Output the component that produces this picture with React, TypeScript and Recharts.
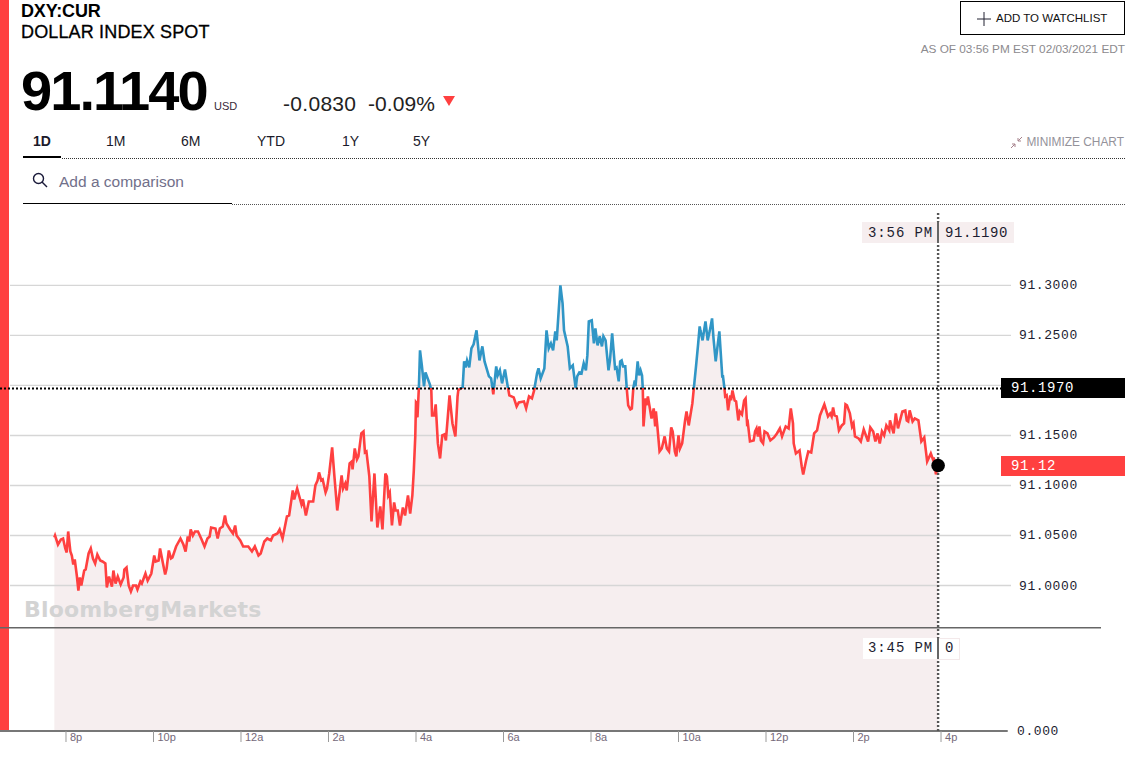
import React from 'react';
import { ComposedChart, Area, Line, XAxis, YAxis, ReferenceLine, ReferenceDot } from 'recharts';

// minutes after 8pm
const minutes = [
  -16, -15, -11, -7, -4, -1, 1, 3, 6, 8,
  10, 12, 15, 17, 19, 21, 25, 27, 31, 34,
  37, 40, 43, 47, 50, 54, 56, 59, 63, 65,
  68, 71, 75, 79, 80, 83, 86, 89, 92, 96,
  98, 102, 104, 106, 109, 112, 117, 121, 123, 127,
  129, 133, 136, 138, 141, 144, 146, 151, 157, 161,
  164, 167, 169, 171, 174, 177, 181, 186, 190, 194,
  197, 199, 205, 208, 211, 215, 218, 220, 225, 229,
  232, 234, 239, 243, 248, 250, 255, 259, 264, 267,
  272, 276, 281, 284, 290, 293, 297, 303, 306, 311,
  313, 317, 323, 325, 329, 333, 339, 342, 345, 347,
  350, 352, 356, 358, 361, 365, 368, 372, 375, 378,
  380, 383, 385, 389, 392, 393, 396, 399, 401, 405,
  408, 410, 412, 416, 419, 423, 427, 431, 434, 438,
  440, 442, 444, 447, 450, 452, 455, 458, 462, 465,
  469, 472, 475, 477, 479, 480, 481, 482, 484, 485.5,
  488, 491, 493, 496, 499, 501, 502, 505, 507, 510,
  513, 516, 519, 521, 526, 530, 534, 537, 538, 541,
  544, 546, 548, 550, 553, 556, 559, 563, 567, 571,
  574, 580, 583, 586, 590, 592, 595, 598, 602, 606,
  608, 614, 618, 621, 628, 631, 635, 639, 642, 646,
  648, 651, 656, 659, 662, 665, 668, 671, 673, 678,
  681, 683, 688, 691, 695, 699, 701, 704, 707, 710,
  713, 715, 717, 721, 724, 726, 729, 732, 735, 737,
  740, 744, 746, 749, 753, 755, 758, 760, 762, 764,
  767, 769, 771, 774, 776, 778, 780, 781, 784, 786,
  788, 790, 791, 792, 795, 796, 798, 803, 806, 808,
  809, 811, 814, 817, 821, 824, 827, 830, 832, 835,
  837, 840, 842, 845, 849, 851, 854, 859, 861, 864,
  867, 869, 870, 873, 877, 880, 883, 886, 888, 891,
  896, 900, 901, 903, 904, 906, 908, 911, 912, 914,
  917, 919, 922, 924, 927, 930, 932, 934, 935, 938,
  943, 945, 947, 949, 951, 953, 956, 958, 962, 966,
  971, 975, 979, 982, 985, 987, 991, 994, 997, 998,
  1001, 1006, 1009, 1011, 1015, 1018, 1022, 1026, 1030, 1034,
  1040, 1045, 1048, 1050, 1052, 1054, 1057, 1060, 1064, 1067,
  1069, 1071, 1075, 1078, 1080, 1082, 1087, 1090, 1094, 1100,
  1103, 1107, 1110, 1113, 1116, 1119, 1122, 1125, 1129, 1130,
  1135, 1138, 1141, 1147, 1151, 1153, 1155, 1157, 1161, 1164,
  1169, 1173, 1177, 1181, 1186, 1189, 1190, 1193, 1195, 1196,
];

const prices = [
  91.048, 91.05, 91.041, 91.046, 91.047, 91.037, 91.033, 91.054, 91.034, 91.03,
  91.021, 91.026, 91.009, 90.995, 91.008, 91.0, 91.015, 91.016, 91.032, 91.037,
  91.027, 91.022, 91.031, 91.025, 91.024, 91.022, 90.998, 91.009, 90.999, 91.015,
  91.002, 91.009, 91.001, 91.008, 91.016, 91.018, 91.0, 90.994, 91.0, 91.0,
  90.996, 91.004, 91.002, 91.006, 91.012, 91.005, 91.012, 91.03, 91.024, 91.025,
  91.037, 91.022, 91.011, 91.017, 91.035, 91.027, 91.028, 91.039, 91.047, 91.041,
  91.034, 91.049, 91.044, 91.056, 91.05, 91.054, 91.054, 91.046, 91.039, 91.047,
  91.049, 91.058, 91.057, 91.047, 91.057, 91.059, 91.07, 91.062, 91.056, 91.052,
  91.06, 91.05, 91.045, 91.039, 91.039, 91.039, 91.034, 91.039, 91.03, 91.032,
  91.044, 91.047, 91.045, 91.05, 91.052, 91.056, 91.047, 91.069, 91.07, 91.095,
  91.086, 91.097, 91.081, 91.086, 91.07, 91.084, 91.084, 91.1, 91.105, 91.113,
  91.105, 91.106, 91.093, 91.097, 91.112, 91.138, 91.11, 91.075, 91.092, 91.11,
  91.097, 91.102, 91.095, 91.122, 91.124, 91.116, 91.137, 91.126, 91.129, 91.152,
  91.154, 91.133, 91.134, 91.109, 91.064, 91.112, 91.058, 91.079, 91.056, 91.112,
  91.109, 91.09, 91.093, 91.06, 91.083, 91.075, 91.075, 91.06, 91.078, 91.07,
  91.09, 91.072, 91.09, 91.115, 91.149, 91.183, 91.182, 91.168, 91.199, 91.235,
  91.22, 91.199, 91.213, 91.207, 91.201, 91.195, 91.17, 91.17, 91.181, 91.142,
  91.127, 91.15, 91.151, 91.145, 91.19, 91.162, 91.149, 91.189, 91.195, 91.197,
  91.198, 91.224, 91.218, 91.225, 91.218, 91.237, 91.241, 91.255, 91.225, 91.239,
  91.224, 91.209, 91.207, 91.191, 91.219, 91.21, 91.215, 91.202, 91.216, 91.198,
  91.19, 91.188, 91.179, 91.183, 91.184, 91.177, 91.189, 91.187, 91.195, 91.212,
  91.217, 91.207, 91.217, 91.255, 91.237, 91.242, 91.235, 91.254, 91.245, 91.3,
  91.282, 91.255, 91.239, 91.217, 91.22, 91.197, 91.209, 91.213, 91.212, 91.222,
  91.215, 91.23, 91.264, 91.265, 91.242, 91.257, 91.24, 91.249, 91.239, 91.249,
  91.245, 91.215, 91.225, 91.252, 91.217, 91.218, 91.204, 91.224, 91.225, 91.219,
  91.219, 91.197, 91.18, 91.176, 91.177, 91.197, 91.205, 91.199, 91.224, 91.21,
  91.215, 91.21, 91.197, 91.159, 91.187, 91.18, 91.189, 91.167, 91.177, 91.159,
  91.174, 91.159, 91.134, 91.137, 91.149, 91.137, 91.134, 91.158, 91.154, 91.134,
  91.129, 91.15, 91.137, 91.142, 91.165, 91.174, 91.16, 91.182, 91.197, 91.219,
  91.242, 91.259, 91.255, 91.245, 91.264, 91.245, 91.255, 91.267, 91.247, 91.224,
  91.254, 91.209, 91.209, 91.197, 91.189, 91.19, 91.175, 91.19, 91.185, 91.195,
  91.185, 91.184, 91.165, 91.174, 91.171, 91.185, 91.187, 91.162, 91.163, 91.144,
  91.145, 91.154, 91.157, 91.149, 91.159, 91.145, 91.142, 91.154, 91.152, 91.145,
  91.148, 91.152, 91.157, 91.149, 91.155, 91.159, 91.157, 91.177, 91.162, 91.142,
  91.132, 91.135, 91.119, 91.111, 91.125, 91.134, 91.133, 91.152, 91.155, 91.17,
  91.181, 91.169, 91.172, 91.169, 91.178, 91.17, 91.169, 91.155, 91.16, 91.162,
  91.181, 91.18, 91.172, 91.159, 91.162, 91.149, 91.147, 91.144, 91.156, 91.144,
  91.158, 91.154, 91.144, 91.152, 91.142, 91.154, 91.15, 91.16, 91.155, 91.165,
  91.152, 91.172, 91.157, 91.174, 91.175, 91.165, 91.164, 91.175, 91.164, 91.167,
  91.165, 91.144, 91.148, 91.124, 91.132, 91.126, 91.128, 91.111, 91.119, 91.119,
];

const timeTicks = [0, 120, 240, 360, 480, 600, 720, 840, 960, 1080, 1200];
const timeLabels = ['8p', '10p', '12a', '2a', '4a', '6a', '8a', '10a', '12p', '2p', '4p'];
const priceTicks = [91.0, 91.05, 91.1, 91.15, 91.25, 91.3];
const gridPrices = [91.0, 91.05, 91.1, 91.15, 91.2, 91.25, 91.3];
const tabs = [
  { label: '1D', left: 33 },
  { label: '1M', left: 106 },
  { label: '6M', left: 181 },
  { label: 'YTD', left: 257 },
  { label: '1Y', left: 342 },
  { label: '5Y', left: 413 },
];

const prevClose = 91.197;
const lastPrice = 91.12;
const lastMinute = 1196;
const panelBreak = 90.9578;
const yMin = 90.8546;
const yMax = 91.3733;
const xMin = -90.5;
const xMax = 1419.4;
const gridStart = -76.8;
const gridEnd = 1296;

const RED = '#ff4040';
const BLUE = '#3096c6';
const MONO = '"Liberation Mono", monospace';
const SANS = '"Liberation Sans", Arial, sans-serif';

const chartData = minutes.map((minute, i) => ({ minute, price: prices[i] }));
const top = Math.max(...prices);
const bottom = Math.min(...prices);
const splitAt = (top - prevClose) / (top - bottom);

const TimeTick = (props: any) => {
  const { x, y, index } = props;
  return (
    <g>
      <line x1={x} x2={x} y1={y} y2={y + 11} stroke="#9a9a9a" strokeWidth={1} />
      <text x={x + 4} y={y + 10} fontSize={11} fontFamily={SANS} fill="#75697a">
        {timeLabels[index]}
      </text>
    </g>
  );
};

const PriceTick = (props: any) => {
  const { x, y, payload } = props;
  return (
    <text x={x - 82} y={y + 4} fontSize={13} letterSpacing={0.6} fontFamily={MONO} fill="#1c1c30">
      {payload.value.toFixed(4)}
    </text>
  );
};

const box = (left: number, top: number, width: number, height: number, extra: React.CSSProperties = {}) => ({
  position: 'absolute' as const,
  left,
  top,
  width,
  height,
  ...extra,
});

const text = (left: number, top: number, size: number, extra: React.CSSProperties = {}) => ({
  position: 'absolute' as const,
  left,
  top,
  fontSize: size,
  lineHeight: `${size}px`,
  whiteSpace: 'nowrap' as const,
  fontFamily: SANS,
  ...extra,
});

const right = (rightEdge: number, top: number, size: number, extra: React.CSSProperties = {}) => {
  const { left, ...rest } = text(0, top, size, extra);
  return { ...rest, right: 1131 - rightEdge };
};

const sideLabel = (y: number, bg: string, label: string) => (
  <div
    style={box(1001, y, 124, 20, {
      background: bg,
      color: '#fff',
      fontFamily: MONO,
      fontSize: 14,
      letterSpacing: 0.6,
      lineHeight: '20px',
      textIndent: 10,
    })}
  >
    {label}
  </div>
);

export default function App() {
  return (
    <div style={{ position: 'absolute', left: 0, top: 0, width: 1131, height: 780, background: '#fff', overflow: 'hidden' }}>
      <div style={box(0, 0, 9, 730, { background: RED })} />

      <div style={{ position: 'absolute', left: 0, top: 0 }}>
        <ComposedChart width={1131} height={780} data={chartData} margin={{ top: 212, right: 29, bottom: 0, left: 0 }}>
          <defs>
            <linearGradient id="aboveBelow" x1="0" y1="0" x2="0" y2="1">
              <stop offset={splitAt} stopColor={BLUE} />
              <stop offset={splitAt} stopColor={RED} />
            </linearGradient>
          </defs>
          <XAxis
            dataKey="minute"
            type="number"
            domain={[xMin, xMax]}
            allowDataOverflow
            ticks={timeTicks}
            interval={0}
            height={49}
            axisLine={false}
            tickLine={false}
            tickSize={0}
            tickMargin={0}
            tick={<TimeTick />}
          />
          <YAxis
            type="number"
            orientation="right"
            width={1}
            domain={[yMin, yMax]}
            allowDataOverflow
            ticks={priceTicks}
            interval={0}
            axisLine={false}
            tickLine={false}
            tickSize={0}
            tickMargin={0}
            tick={<PriceTick />}
          />
          <Area
            dataKey="price"
            type="linear"
            baseValue={yMin}
            stroke="none"
            fill="#8f2b37"
            fillOpacity={0.08}
            dot={false}
            activeDot={false}
            isAnimationActive={false}
          />
          {gridPrices.map((p) => (
            <ReferenceLine
              key={p}
              segment={[{ x: gridStart, y: p }, { x: gridEnd, y: p }]}
              stroke="#d6d6d6"
              strokeWidth={1.4}
            />
          ))}
          <ReferenceLine
            segment={[{ x: xMin, y: panelBreak }, { x: xMax, y: panelBreak }]}
            stroke="#666666"
            strokeWidth={1.5}
          />
          <ReferenceLine
            segment={[{ x: xMin, y: yMin }, { x: 1291.5, y: yMin }]}
            stroke="#777777"
            strokeWidth={2}
          />
          <Line
            dataKey="price"
            type="linear"
            stroke="url(#aboveBelow)"
            strokeWidth={2.6}
            dot={false}
            activeDot={false}
            isAnimationActive={false}
          />
          <ReferenceLine
            segment={[{ x: xMin, y: prevClose }, { x: 1283, y: prevClose }]}
            stroke="#000000"
            strokeWidth={2}
            strokeDasharray="2 2"
          />
          <ReferenceLine x={lastMinute} stroke="#555555" strokeWidth={2.4} strokeDasharray="2 2" />
          <ReferenceDot x={lastMinute} y={lastPrice} r={6.8} fill="#000000" stroke="none" />
        </ComposedChart>
      </div>

      <div style={text(21, 2, 18, { fontWeight: 700, letterSpacing: -0.15, color: '#000' })}>DXY:CUR</div>
      <div style={text(21, 23, 18, { WebkitTextStroke: '0.3px #000', letterSpacing: 0.15, color: '#000' })}>DOLLAR INDEX SPOT</div>
      <div style={text(21, 63, 56, { fontWeight: 700, letterSpacing: -1.95, color: '#000' })}>91.1140</div>
      <div style={text(214, 101, 11, { color: '#3a2a3a' })}>USD</div>
      <div style={text(283, 93, 21, { color: '#222', letterSpacing: 0.3 })}>-0.0830</div>
      <div style={text(368, 93, 21, { color: '#222', letterSpacing: 0.1 })}>-0.09%</div>
      <svg style={box(443, 96, 12, 10)} viewBox="0 0 12 10">
        <polygon points="0,0 12,0 6,10" fill={RED} />
      </svg>

      {tabs.map((t, i) => (
        <div key={t.label} style={text(t.left, 134, 14, { color: '#1a1a2a', fontWeight: i === 0 ? 700 : 400 })}>
          {t.label}
        </div>
      ))}
      <div style={box(23, 156, 38, 2, { background: '#000' })} />
      <div style={box(62, 157.5, 1063, 0, { borderTop: '1px dotted #333' })} />

      <svg style={box(32, 172, 16, 16)} viewBox="0 0 16 16">
        <circle cx="6.5" cy="6.5" r="5" fill="none" stroke="#1a1a3a" strokeWidth="1.4" />
        <line x1="10" y1="10" x2="15" y2="15" stroke="#1a1a3a" strokeWidth="1.4" />
      </svg>
      <div style={text(59, 174, 15.5, { color: '#71708a' })}>Add a comparison</div>
      <div style={box(23, 203, 209, 1, { background: '#000' })} />
      <div style={box(232, 204, 893, 0, { borderTop: '1px dotted #555' })} />

      <div style={box(960, 1, 165, 34, { border: '1.5px solid #000', boxSizing: 'border-box' })} />
      <svg style={box(977, 12, 14, 14)} viewBox="0 0 14 14">
        <line x1="7" y1="0" x2="7" y2="14" stroke="#223" strokeWidth="1" />
        <line x1="0" y1="7" x2="14" y2="7" stroke="#223" strokeWidth="1" />
      </svg>
      <div style={text(996, 13, 11.5, { color: '#111' })}>ADD TO WATCHLIST</div>
      <div style={right(1125, 44, 11.8, { color: '#8c8a8e' })}>AS OF 03:56 PM EST 02/03/2021 EDT</div>
      <svg style={box(1010, 136, 13, 13)} viewBox="0 0 13 13">
        <path d="M1 12 L5 8 M2 8 H5 V11 M12 1 L8 5 M8 2 V5 H11" fill="none" stroke="#a5808a" strokeWidth="1" />
      </svg>
      <div style={right(1124, 137, 11.9, { color: '#94929a' })}>MINIMIZE CHART</div>

      <div style={box(862, 222, 152, 21, { background: '#f6eeef' })} />
      <div style={box(937, 222, 2, 21, { background: '#666' })} />
      <div style={text(868, 226, 14, { fontFamily: MONO, letterSpacing: 0.9, color: '#1c1c30' })}>3:56 PM</div>
      <div style={text(945, 226, 14, { fontFamily: MONO, letterSpacing: 0.6, color: '#1c1c30' })}>91.1190</div>

      <div style={box(863, 638, 75, 21, { background: '#fff' })} />
      <div style={box(937, 638, 23, 22, { border: '1px solid #f3e9ea', boxSizing: 'border-box', background: '#fff' })} />
      <div style={box(937, 638, 2, 21, { background: '#666' })} />
      <div style={text(868, 641, 14, { fontFamily: MONO, letterSpacing: 0.9, color: '#1c1c30' })}>3:45 PM</div>
      <div style={text(945, 641, 14, { fontFamily: MONO, color: '#1c1c30' })}>0</div>

      {sideLabel(378, '#000', '91.1970')}
      {sideLabel(456, RED, '91.12')}
      <div style={text(1017, 725, 13, { fontFamily: MONO, letterSpacing: 0.6, color: '#1c1c30' })}>0.000</div>

      <div style={text(24, 599, 22, { fontFamily: '"DejaVu Sans", sans-serif', fontWeight: 700, color: '#d3d3d3', letterSpacing: 0.16 })}>BloombergMarkets</div>
    </div>
  );
}
